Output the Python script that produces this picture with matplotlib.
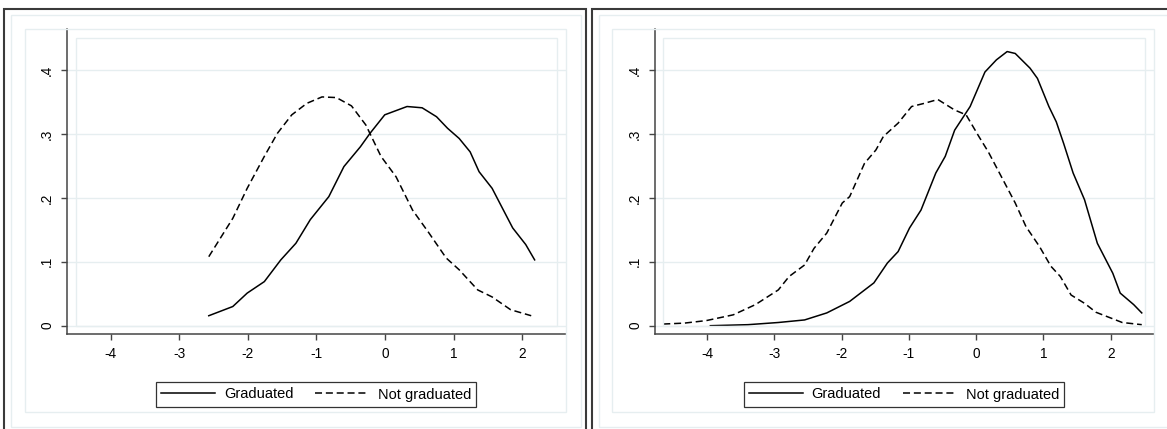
import numpy as np
import matplotlib.pyplot as plt
from matplotlib.patches import Rectangle
from matplotlib.lines import Line2D

# left panel
left_grad_x = [-2.57, -2.22, -2.01, -1.76, -1.52, -1.30, -1.09, -0.82, -0.60, -0.36, -0.22, -0.005, 0.32, 0.54, 0.75, 0.91, 1.08, 1.24, 1.37, 1.56, 1.70, 1.86, 2.05, 2.18]
left_grad_y = [0.0156, 0.030, 0.051, 0.069, 0.103, 0.129, 0.166, 0.202, 0.249, 0.280, 0.301, 0.330, 0.343, 0.341, 0.327, 0.309, 0.293, 0.272, 0.241, 0.215, 0.186, 0.153, 0.127, 0.103]
left_not_x = [-2.57, -2.22, -2.01, -1.76, -1.57, -1.36, -1.14, -0.92, -0.71, -0.49, -0.28, -0.06, 0.16, 0.40, 0.64, 0.89, 1.08, 1.35, 1.56, 1.83, 2.13]
left_not_y = [0.108, 0.168, 0.215, 0.265, 0.301, 0.330, 0.348, 0.358, 0.357, 0.344, 0.314, 0.265, 0.233, 0.181, 0.145, 0.106, 0.0875, 0.056, 0.045, 0.025, 0.0156]

# right panel
right_grad_x = [-3.95, -3.39, -2.94, -2.55, -2.22, -1.88, -1.52, -1.32, -1.16, -0.99, -0.82, -0.60, -0.46, -0.32, -0.09, 0.13, 0.30, 0.46, 0.58, 0.80, 0.91, 1.08, 1.19, 1.30, 1.44, 1.61, 1.80, 2.03, 2.14, 2.34, 2.46]
right_grad_y = [0.0, 0.0016, 0.005, 0.009, 0.020, 0.038, 0.067, 0.098, 0.116, 0.153, 0.181, 0.239, 0.265, 0.306, 0.343, 0.397, 0.416, 0.429, 0.426, 0.403, 0.387, 0.343, 0.319, 0.285, 0.239, 0.197, 0.129, 0.082, 0.051, 0.033, 0.020]
right_not_x = [-4.65, -4.34, -4.01, -3.61, -3.28, -2.94, -2.78, -2.55, -2.41, -2.22, -1.99, -1.88, -1.66, -1.49, -1.38, -1.16, -0.96, -0.77, -0.57, -0.32, -0.15, 0.04, 0.18, 0.41, 0.58, 0.74, 0.94, 1.11, 1.25, 1.41, 1.61, 1.78, 2.00, 2.17, 2.46]
right_not_y = [0.0026, 0.004, 0.008, 0.017, 0.033, 0.056, 0.077, 0.095, 0.121, 0.145, 0.192, 0.202, 0.254, 0.275, 0.296, 0.317, 0.343, 0.348, 0.354, 0.3375, 0.330, 0.296, 0.272, 0.226, 0.192, 0.155, 0.124, 0.093, 0.077, 0.048, 0.035, 0.021, 0.012, 0.005, 0.0016]

x_ticks = [-4, -3, -2, -1, 0, 1, 2]
y_ticks = [0, 0.1, 0.2, 0.3, 0.4]
y_labels = ['0', '.1', '.2', '.3', '.4']
legend_labels = ['Graduated', 'Not graduated']

W = 1167
H = 429
FONT = ['Liberation Sans', 'DejaVu Sans']
LIGHT = '#e6eef0'
DASH = (0, (4.6, 2.5))

plt.rcParams['font.family'] = FONT

fig = plt.figure(figsize=(W / 100, H / 100), dpi=100)

def rect(x0, y0, x1, y1, color, lw):
	# rectangle given in pixel coords, y down from the top
	r = Rectangle((x0 / W, 1 - y1 / H), (x1 - x0) / W, (y1 - y0) / H,
		transform=fig.transFigure, fill=False, edgecolor=color, linewidth=lw, clip_on=False)
	fig.add_artist(r)

def panel(x0, x1, xlim, gx, gy, nx, ny, plot_l, plot_r, legend_cx):
	ax = fig.add_axes([x0 / W, 1 - 334 / H, (x1 - x0) / W, (334 - 29) / H])
	ax.set_facecolor('none')
	ax.plot(gx, gy, color='black', lw=1.1, solid_joinstyle='round')
	ax.plot(nx, ny, color='black', lw=1.1, linestyle=DASH)
	ax.set_xlim(xlim)
	ax.set_ylim(-0.013, 0.4643)
	ax.set_xticks(x_ticks)
	ax.set_xticklabels([str(t) for t in x_ticks])
	ax.set_yticks(y_ticks)
	ax.set_yticklabels(y_labels, rotation=90, va='center')
	ax.grid(axis='y', color=LIGHT, lw=1.0)
	ax.set_axisbelow(True)
	for s in ['top', 'right']:
		ax.spines[s].set_visible(False)
	for s in ['left', 'bottom']:
		ax.spines[s].set_color('#454545')
		ax.spines[s].set_linewidth(1.1)
	ax.tick_params(axis='both', length=4.5, width=1.0, color='#454545', labelsize=9.8, pad=4.5)
	# plot region border
	rect(plot_l, 38, plot_r, 325.7, LIGHT, 1.0)
	handles = [Line2D([], [], color='black', lw=1.1),
		Line2D([], [], color='black', lw=1.1, linestyle=DASH)]
	leg = fig.legend(handles, legend_labels, loc='center', bbox_to_anchor=(legend_cx / W, 1 - 394.5 / H),
		ncol=2, fontsize=10.5, frameon=True, fancybox=False, edgecolor='black', handlelength=3.7,
		handletextpad=0.6, columnspacing=1.5, borderpad=0.35, borderaxespad=0)
	leg.get_frame().set_linewidth(0.9)
	return ax

# frames and region boxes
rect(4.3, 9, 586, 445, '#3a3a3a', 1.5)
rect(592.3, 9, 1185, 445, '#3a3a3a', 1.5)
rect(11, 15, 580.7, 426.7, LIGHT, 1.0)
rect(599, 15, 1185, 426.7, LIGHT, 1.0)
rect(24.7, 29, 566.4, 412.3, LIGHT, 1.0)
rect(612, 29, 1153.6, 412.3, LIGHT, 1.0)

panel(66.7, 566.4, (-4.641, 2.643), left_grad_x, left_grad_y, left_not_x, left_not_y, 76, 557, 316.3)
panel(654.5, 1153.6, (-4.78, 2.636), right_grad_x, right_grad_y, right_not_x, right_not_y, 663, 1145.3, 903.8)

fig.savefig('out.png', dpi=100)
